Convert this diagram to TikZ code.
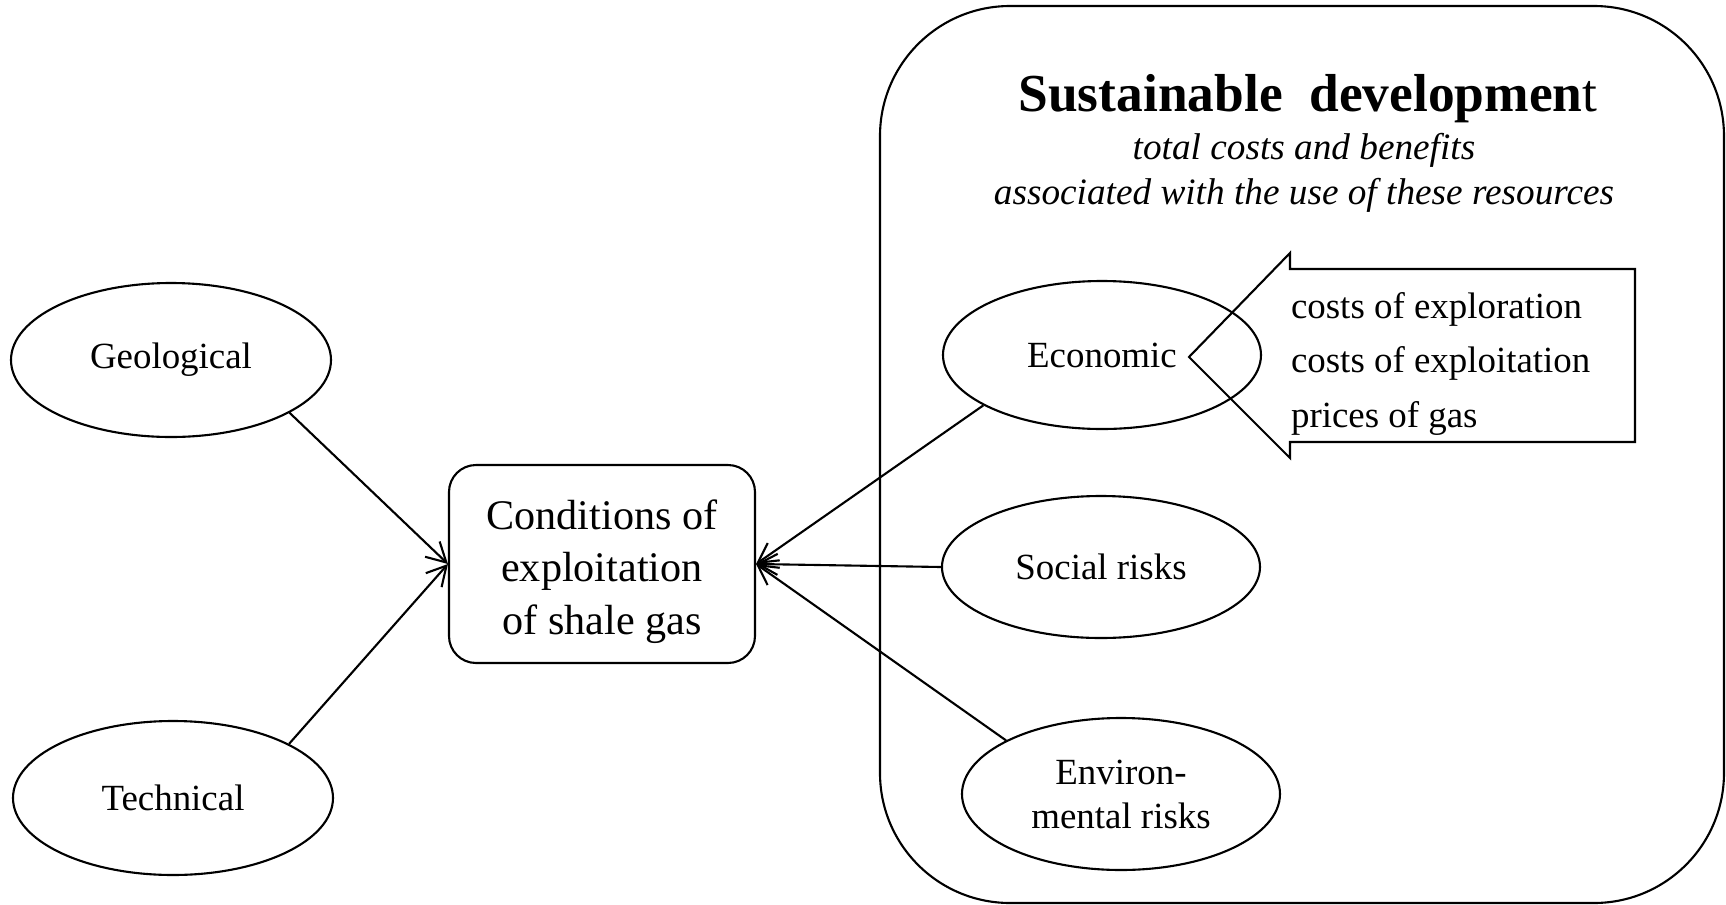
\documentclass[tikz,border=0pt]{standalone}
\usepackage{fontspec}
\setmainfont{Liberation Serif}
\usetikzlibrary{shapes.geometric,arrows.meta}
\begin{document}
\begin{tikzpicture}[x=0.1mm,y=-0.1mm,line width=0.6pt,
  ell/.style={ellipse,draw,inner sep=0pt,minimum width=31.8mm,minimum height=14.8mm,align=center,font=\fontsize{10.5}{12.5}\selectfont},
  arr/.style={-{Straight Barb[length=5.5pt,width=6pt]}},
  txt/.style={inner sep=0pt,font=\fontsize{10.5}{15.4}\selectfont}
  ]
\useasboundingbox (0,0) rectangle (1726,905);
% container
\node[draw,rounded corners=13mm,minimum width=84.4mm,minimum height=89.7mm,inner sep=0pt] (sd) at (1302,454.5) {};
\node[anchor=base,inner sep=0pt,font=\fontsize{15.2}{18}\selectfont] (title) at (1308,111) {{\bfseries Sustainable\ \ developmen}t};
\node[anchor=base,inner sep=0pt,align=center,font=\fontsize{10.6}{12.6}\selectfont\itshape] (sub) at (1304,204) {total costs and benefits\\associated with the use of these resources};
% central box
\node[draw,rounded corners=2.7mm,minimum width=30.6mm,minimum height=19.8mm,inner sep=0pt] (cond) at (602,564) {};
\node[anchor=base,inner sep=0pt,align=center,font=\fontsize{12}{14.8}\selectfont] (condtxt) at (602,634) {Conditions of\\exploitation\\of shale gas};
% ellipses
\node[ell,minimum width=32mm,minimum height=15.4mm] (geo) at (171,360) {Geological};
\node[ell,minimum width=32mm,minimum height=15.4mm] (tech) at (173,798) {Technical};
\node[ell] (eco) at (1102,355) {Economic};
\node[ell,minimum height=14.2mm] (soc) at (1101,567) {Social risks};
\node[ell,minimum height=15.2mm] (env) at (1121,794) {Environ-\\mental risks};
% callout
\draw (1189,357) -- (1290,253) -- (1290,269) -- (1635,269) -- (1635,442) -- (1290,442) -- (1290,458) -- cycle;
\node[txt,anchor=base west,align=left] (costs) at (1290,427) {costs of exploration\\costs of exploitation\\prices of gas};
% arrows
\draw[arr] (geo.-24) -- (cond.west);
\draw[arr] (tech.25) -- (cond.west);
\draw[arr] (eco.203) -- (cond.east);
\draw[arr] (soc.west) -- (cond.east);
\draw[arr] (env.155) -- (cond.east);
\end{tikzpicture}
\end{document}
